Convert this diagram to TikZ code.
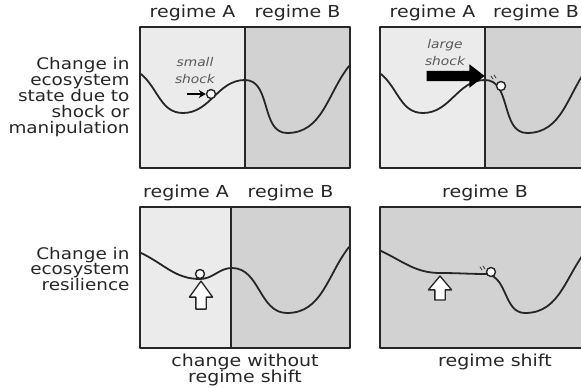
\documentclass[tikz,border=0pt]{standalone}
\usepackage{fontspec}
\setmainfont[FakeStretch=1.15]{DejaVu Sans}
\usetikzlibrary{arrows.meta,shapes.arrows}

\definecolor{regA}{HTML}{EBEBEB}
\definecolor{regB}{HTML}{D2D2D2}
\definecolor{ink}{HTML}{262626}

\begin{document}
\begin{tikzpicture}[x=1pt, y=-1pt, line cap=round, line join=round,
  panel/.style={draw=ink, line width=1.8pt, line cap=butt},
  divider/.style={draw=ink, line width=1.4pt, line cap=butt},
  landscape/.style={draw=black!85, line width=1.8pt},
  ball/.style={circle, draw=black!85, fill=white, line width=1.4pt, inner sep=0pt, minimum size=9pt},
  regimelabel/.style={text=ink, font=\fontsize{16.5}{16}\selectfont},
  sidelabel/.style={text=ink, align=right, anchor=east, font=\fontsize{16}{15.8}\selectfont},
  caption/.style={text=ink, align=center, font=\fontsize{16.5}{16}\selectfont},
  shocklabel/.style={text=black!65, align=center, font=\fontsize{12}{17}\selectfont\itshape},
  hollowarrow/.style={single arrow, draw=black!85, fill=white, line width=1.3pt, rotate=90,
    inner sep=0pt, inner ysep=4.5pt, single arrow head extend=6.5pt,
    single arrow head indent=0pt, anchor=tip},
  motion/.style={draw=black!80, line width=0.8pt}]
  \useasboundingbox (0,0) rectangle (581,388);

  % Side labels
  \node[sidelabel] (statelabel) at (133,97) {Change in\\ecosystem\\state due to\\shock or\\manipulation};
  \node[sidelabel] (resillabel) at (133,269) {Change in\\ecosystem\\resilience};

  % Top left panel: small shock
  \fill[regA] (140,27) rectangle (245,168);
  \fill[regB] (245,27) rectangle (350,168);
  \draw[landscape] (141,74) to[out=-40,in=180] (183,113) to[out=0,in=180] (245,80)
    to[out=0,in=180] (287,133) to[out=0,in=-128] (349,66);
  \draw[panel] (140,27) rectangle (350,168);
  \draw[divider] (245,27) -- (245,168);
  \node[regimelabel] (tlA) at (192.5,13) {regime A};
  \node[regimelabel] (tlB) at (297.5,13) {regime B};
  \node[shocklabel] (smallshock) at (195,71) {small\\shock};
  \node[ball] (ball1) at (211,94) {};
  \coordinate (push1) at (187,94);
  \draw[-{Stealth[length=7pt,width=8pt]}, line width=2.8pt, line cap=butt] (push1) -- (ball1);

  % Top right panel: large shock
  \begin{scope}
    \clip (379,0) rectangle (581,388);
    \fill[regA] (380,27) rectangle (485,168);
    \fill[regB] (485,27) rectangle (590,168);
    \draw[landscape] (381,74) to[out=-40,in=180] (423,113) to[out=0,in=180] (485,80)
      to[out=0,in=180] (527,133) to[out=0,in=-128] (589,66);
    \draw[panel] (380,27) rectangle (590,168);
    \draw[divider] (485,27) -- (485,168);
  \end{scope}
  \node[regimelabel] (trA) at (432.5,13) {regime A};
  \node[regimelabel] (trB) at (536,13) {regime B};
  \node[shocklabel] (largeshock) at (445,53) {large\\shock};
  \node[single arrow, fill=black, inner sep=0pt, inner ysep=5pt, minimum height=58pt,
    single arrow head extend=6.5pt, single arrow head indent=0pt,
    single arrow tip angle=75, anchor=tip] (bigshock) at (485,76) {};
  \node[ball] (ball2) at (501,86) {};
  \draw[motion] (491,76) -- (493,79);
  \draw[motion] (494,75) -- (496,78);

  % Bottom left panel: change without regime shift
  \fill[regA] (140,207) rectangle (231,348);
  \fill[regB] (231,207) rectangle (350,348);
  \draw[landscape] (141,253) to[out=-25,in=180] (200,279) to[out=0,in=180] (232,268)
    to[out=0,in=180] (287,313) to[out=0,in=-128] (349,247);
  \draw[panel] (140,207) rectangle (350,348);
  \draw[divider] (231,207) -- (231,348);
  \node[regimelabel] (blA) at (186,193) {regime A};
  \node[regimelabel] (blB) at (290.5,193) {regime B};
  \node[ball] (ball3) at (200,274) {};
  \node[hollowarrow, minimum height=28pt, single arrow tip angle=72] (lift1) at (201,280) {};
  \node[caption] (nochange) at (245,370) {change without\\regime shift};

  % Bottom right panel: regime shift
  \begin{scope}
    \clip (379,0) rectangle (581,388);
    \fill[regB] (380,207) rectangle (590,348);
    \draw[landscape] (381,251) to[out=-25,in=180] (440,273) to[out=0,in=180] (487,274)
      to[out=-10,in=180] (525,313) to[out=0,in=-132] (590,246);
    \draw[panel] (380,207) rectangle (590,348);
  \end{scope}
  \node[regimelabel] (brB) at (485,193) {regime B};
  \node[ball] (ball4) at (491,272) {};
  \draw[motion] (480,267) -- (482,270);
  \draw[motion] (483,266) -- (485,269);
  \node[hollowarrow, minimum height=24pt, single arrow tip angle=80] (lift2) at (440,275) {};
  \node[caption] (shift) at (495,362) {regime shift};
\end{tikzpicture}
\end{document}
